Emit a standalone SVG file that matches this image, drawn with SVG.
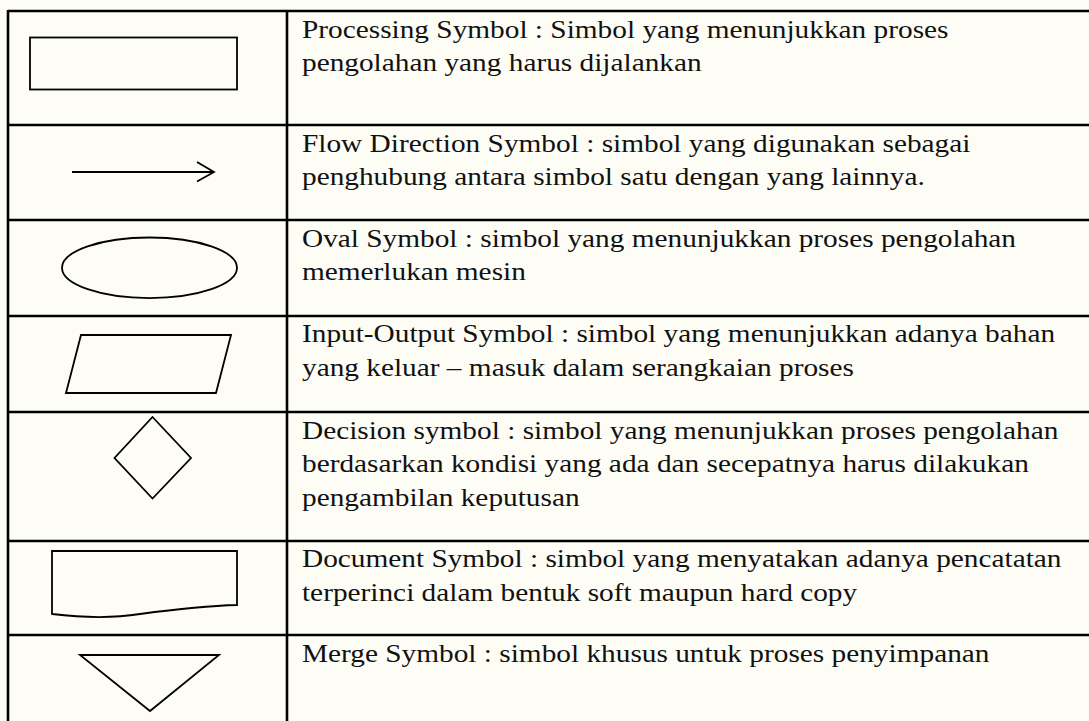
<svg xmlns="http://www.w3.org/2000/svg" width="1089" height="721" viewBox="0 0 1089 721">
<style>
.grid{stroke:#000;stroke-width:2.6;fill:none}
.sym{stroke:#000;stroke-width:1.8;fill:none;stroke-linejoin:miter}
.t{font-family:"Liberation Serif","Times New Roman",serif;font-size:25.5px;fill:#111}
</style>
<rect x="0" y="0" width="1089" height="721" fill="#fdfdf6"/>
<g id="grid" class="grid">
<line x1="8" y1="11" x2="1089" y2="11"/>
<line x1="8" y1="125" x2="1089" y2="125"/>
<line x1="8" y1="220" x2="1089" y2="220"/>
<line x1="8" y1="316" x2="1089" y2="316"/>
<line x1="8" y1="412" x2="1089" y2="412"/>
<line x1="8" y1="541" x2="1089" y2="541"/>
<line x1="8" y1="635" x2="1089" y2="635"/>
<line x1="8" y1="10" x2="8" y2="721"/>
<line x1="287" y1="10" x2="287" y2="721"/>
</g>
<g id="processing">
<rect class="sym" x="30" y="37.5" width="207" height="52"/>
<g transform="scale(1.15,1)"><text class="t" x="262.6" y="37.7">Processing Symbol : Simbol yang menunjukkan proses</text><text class="t" x="262.6" y="71.2">pengolahan yang harus dijalankan</text></g>
</g>
<g id="flow">
<line class="sym" x1="72" y1="172" x2="213" y2="172"/>
<polyline class="sym" points="197,162 214,172 197,181.5"/>
<g transform="scale(1.15,1)"><text class="t" x="262.6" y="151.7">Flow Direction Symbol : simbol yang digunakan sebagai</text><text class="t" x="262.6" y="185.2">penghubung antara simbol satu dengan yang lainnya.</text></g>
</g>
<g id="oval">
<ellipse class="sym" cx="149.5" cy="267.8" rx="87.5" ry="30.3"/>
<g transform="scale(1.15,1)"><text class="t" x="262.6" y="246.7">Oval Symbol : simbol yang menunjukkan proses pengolahan</text><text class="t" x="262.6" y="280.2">memerlukan mesin</text></g>
</g>
<g id="input-output">
<polygon class="sym" points="81,335 231,335 216,393 66,393"/>
<g transform="scale(1.15,1)"><text class="t" x="262.6" y="342.2">Input-Output Symbol : simbol yang menunjukkan adanya bahan</text><text class="t" x="262.6" y="375.7">yang keluar – masuk dalam serangkaian proses</text></g>
</g>
<g id="decision">
<polygon class="sym" points="152.5,417 191,458 152.5,498.5 114.5,458"/>
<g transform="scale(1.15,1)"><text class="t" x="262.6" y="438.7">Decision symbol : simbol yang menunjukkan proses pengolahan</text><text class="t" x="262.6" y="472.2">berdasarkan kondisi yang ada dan secepatnya harus dilakukan</text><text class="t" x="262.6" y="505.7">pengambilan keputusan</text></g>
</g>
<g id="document">
<path class="sym" d="M52,551 L237,551 L237,605 C200,606 170,610 140,614 C115,618 85,618 52,614 Z"/>
<g transform="scale(1.15,1)"><text class="t" x="262.6" y="567.2">Document Symbol : simbol yang menyatakan adanya pencatatan</text><text class="t" x="262.6" y="600.7">terperinci dalam bentuk soft maupun hard copy</text></g>
</g>
<g id="merge">
<polygon class="sym" points="80,655 219,655 150,711"/>
<g transform="scale(1.15,1)"><text class="t" x="262.6" y="662.5">Merge Symbol : simbol khusus untuk proses penyimpanan</text></g>
</g>
<g id="connectors"/>
</svg>
